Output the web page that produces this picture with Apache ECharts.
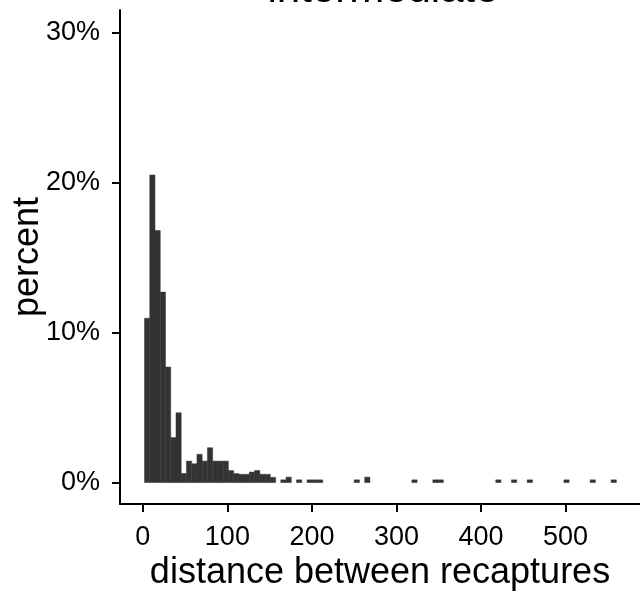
<!DOCTYPE html>
<html>
<head>
<meta charset="utf-8">
<script src="https://cdn.jsdelivr.net/npm/echarts@6/dist/echarts.min.js"></script>
<style>
  html, body { margin: 0; padding: 0; background: #fff; }
  #chart { width: 640px; height: 592px; }
</style>
</head>
<body>
<div id="chart"></div>
<script>
// histogram bins: left edge of first bin and bin width (distance units)
const binOrigin = 2
const binWidth = 6.2

// percent of recaptures in each bin
const binPercent = [
  10.95, 20.5, 16.8, 12.7, 7.7, 3.0, 4.65, 0.6, 1.43, 1.25,
  1.88, 1.43, 2.32, 1.43, 1.43, 1.43, 0.8, 0.6, 0.55, 0.55,
  0.7, 0.8, 0.55, 0.55, 0.35, 0, 0.18, 0.36, 0, 0.18,
  0, 0.18, 0.18, 0.18, 0, 0, 0, 0, 0, 0,
  0.18, 0, 0.36, 0, 0, 0, 0, 0, 0, 0,
  0, 0.18, 0, 0, 0, 0.18, 0.18, 0, 0, 0,
  0, 0, 0, 0, 0, 0, 0, 0.18, 0, 0,
  0.18, 0, 0, 0.18, 0, 0, 0, 0, 0, 0,
  0.18, 0, 0, 0, 0, 0.18, 0, 0, 0, 0.18
]

const xTicks = [0, 100, 200, 300, 400, 500]
const yTicks = [0, 10, 20, 30]

const chart = echarts.init(document.getElementById('chart'))

// [start, end, percent] per bin
const bins = binPercent.map((p, i) => [binOrigin + i * binWidth, binOrigin + (i + 1) * binWidth, p])

const font = 'Liberation Sans, Arial, sans-serif'

const options = {
  animation: false,
  // facet title, mostly cut off by the top edge
  graphic: [{
    type: 'text',
    x: 383,
    y: 11,
    style: {
      text: 'intermediate',
      align: 'center',
      verticalAlign: 'bottom',
      font: '42px ' + font,
      fill: '#000'
    }
  }],
  grid: { left: 120, right: 0, top: 10, bottom: 88, containLabel: false, outerBoundsMode: 'none' },
  xAxis: {
    type: 'value',
    min: -27,
    max: 588,
    name: 'distance between recaptures',
    nameLocation: 'middle',
    nameGap: 51,
    nameMoveOverlap: false,
    nameTextStyle: { fontFamily: font, fontSize: 36, color: '#000' },
    axisLine: { show: true, onZero: false, lineStyle: { color: '#000', width: 2 } },
    axisTick: { show: true, customValues: xTicks, length: 8, lineStyle: { color: '#000', width: 2 } },
    axisLabel: { customValues: xTicks, margin: 20, fontFamily: font, fontSize: 27, color: '#000' },
    splitLine: { show: false }
  },
  yAxis: {
    type: 'value',
    min: -1.43,
    max: 31.5,
    name: 'percent',
    nameLocation: 'middle',
    nameGap: 74,
    nameMoveOverlap: false,
    nameTextStyle: { fontFamily: font, fontSize: 36, color: '#000' },
    axisLine: { show: true, onZero: false, lineStyle: { color: '#000', width: 2 } },
    axisTick: { show: true, customValues: yTicks, length: 8, lineStyle: { color: '#000', width: 2 } },
    axisLabel: { customValues: yTicks, margin: 20, formatter: '{value}%', fontFamily: font, fontSize: 27, color: '#000' },
    splitLine: { show: false }
  },
  series: [{
    type: 'custom',
    data: bins,
    renderItem: (params, api) => {
      const h = api.value(2)
      if (!h) return
      const p0 = api.coord([api.value(0), h])
      const p1 = api.coord([api.value(1), 0])
      return {
        type: 'rect',
        shape: { x: p0[0], y: p0[1], width: p1[0] - p0[0], height: p1[1] - p0[1] },
        style: { fill: '#333333', stroke: '#333333', lineWidth: 0.5 }
      }
    }
  }]
}
chart.setOption(options)
</script>
</body>
</html>
